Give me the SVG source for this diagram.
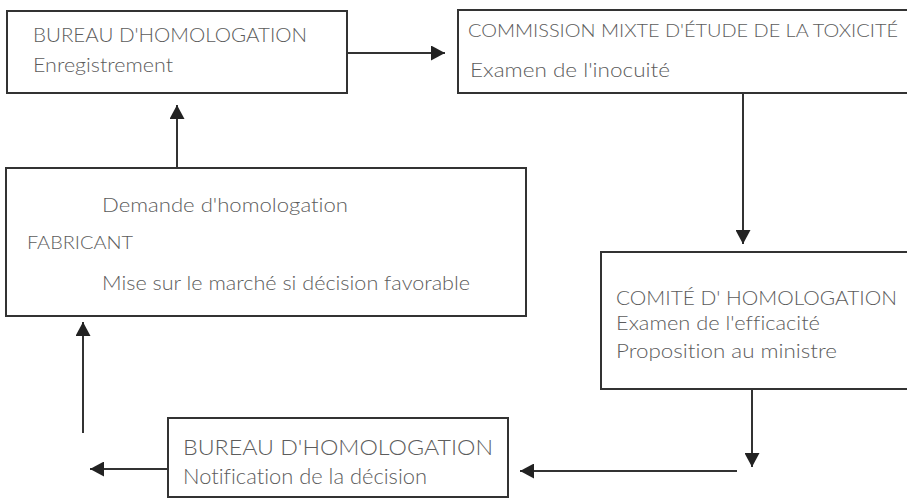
<svg xmlns="http://www.w3.org/2000/svg" width="907" height="500" viewBox="0 0 907 500">
<defs>
<style>
.box{fill:#fff;stroke:#333;stroke-width:2}
.t{font-family:Lato,"Open Sans","Liberation Sans",sans-serif;fill:#5c5c5c;font-weight:300;font-variant-ligatures:none}
.c{stroke:#333;stroke-width:2;fill:none}
</style>
<marker id="ah" markerUnits="userSpaceOnUse" markerWidth="15" markerHeight="15" refX="14" refY="7.5" orient="auto">
<path d="M0,0 L14,7.5 L0,15 z" fill="#222"/>
</marker>
</defs>
<rect width="907" height="500" fill="#fff"/>
<g id="bureau1">
<rect class="box" x="7" y="11" width="340" height="82"/>
<text class="t" x="33" y="42" font-size="19" textLength="274" lengthAdjust="spacingAndGlyphs">BUREAU D'HOMOLOGATION</text>
<text class="t" x="33" y="72" font-size="20" textLength="140" lengthAdjust="spacingAndGlyphs">Enregistrement</text>
</g>
<g id="commission">
<rect class="box" x="458" y="10" width="460" height="83"/>
<text class="t" x="468" y="37" font-size="18" textLength="430" lengthAdjust="spacingAndGlyphs">COMMISSION MIXTE D'ÉTUDE DE LA TOXICITÉ</text>
<text class="t" x="470" y="77" font-size="20" textLength="200" lengthAdjust="spacingAndGlyphs">Examen de l'inocuité</text>
</g>
<g id="fabricant">
<rect class="box" x="6" y="168" width="520" height="148"/>
<text class="t" x="102" y="212" font-size="20" textLength="246" lengthAdjust="spacingAndGlyphs">Demande d'homologation</text>
<text class="t" x="27" y="249" font-size="17" textLength="106" lengthAdjust="spacingAndGlyphs">FABRICANT</text>
<text class="t" x="102" y="290" font-size="20" textLength="368" lengthAdjust="spacingAndGlyphs">Mise sur le marché si décision favorable</text>
</g>
<g id="comite">
<rect class="box" x="601" y="252" width="320" height="137"/>
<text class="t" x="616" y="305" font-size="19" textLength="281" lengthAdjust="spacingAndGlyphs">COMITÉ D' HOMOLOGATION</text>
<text class="t" x="616" y="330" font-size="20" textLength="204" lengthAdjust="spacingAndGlyphs">Examen de l'efficacité</text>
<text class="t" x="616" y="358" font-size="20" textLength="221" lengthAdjust="spacingAndGlyphs">Proposition au ministre</text>
</g>
<g id="bureau2">
<rect class="box" x="168" y="418" width="340" height="79"/>
<text class="t" x="183" y="455" font-size="21" textLength="310" lengthAdjust="spacingAndGlyphs">BUREAU D'HOMOLOGATION</text>
<text class="t" x="183" y="484" font-size="21" textLength="244" lengthAdjust="spacingAndGlyphs">Notification de la décision</text>
</g>
<g id="connectors">
<line class="c" x1="347" y1="53" x2="445" y2="53" marker-end="url(#ah)"/>
<line class="c" x1="743" y1="93" x2="743" y2="244" marker-end="url(#ah)"/>
<line class="c" x1="752" y1="389" x2="752" y2="467" marker-end="url(#ah)"/>
<line class="c" x1="737" y1="471" x2="520" y2="471" marker-end="url(#ah)"/>
<line class="c" x1="168" y1="469" x2="90" y2="469" marker-end="url(#ah)"/>
<line class="c" x1="83" y1="433" x2="83" y2="322" marker-end="url(#ah)"/>
<line class="c" x1="177" y1="168" x2="177" y2="105" marker-end="url(#ah)"/>
</g>
</svg>
